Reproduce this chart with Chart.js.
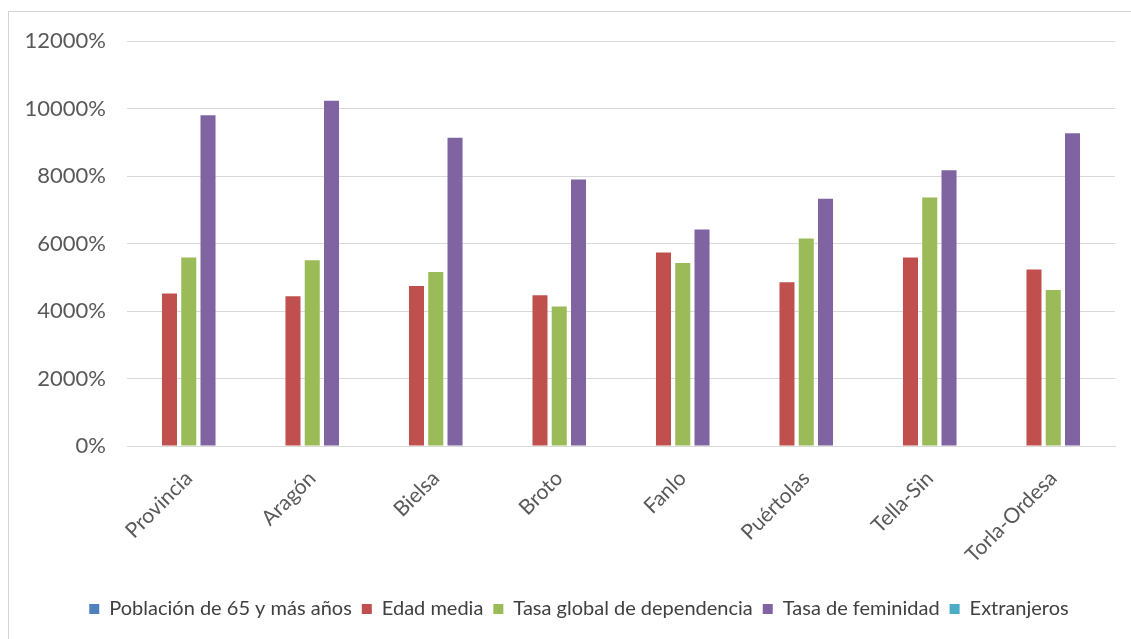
<!DOCTYPE html>
<html>
<head>
<meta charset="utf-8">
<script src="https://cdn.jsdelivr.net/npm/chart.js@4/dist/chart.umd.min.js"></script>
<style>
  body { margin: 0; background: #fff; }
  #wrap {
    position: absolute;
    left: 8px;
    top: 11px;
    width: 1122px;
    height: 627px;
    border-left: 1px solid #d4d4d4;
    border-top: 1px solid #d4d4d4;
  }
</style>
</head>
<body>
<div id="wrap"><canvas id="barChart"></canvas></div>
<script>
// Chart data
const municipios = ["Provincia", "Aragón", "Bielsa", "Broto", "Fanlo", "Puértolas", "Tella-Sin", "Torla-Ordesa"];
const poblacion65 = [0, 0, 0, 0, 0, 0, 0, 0];
const edadMedia = [4515, 4435, 4740, 4465, 5730, 4850, 5585, 5230];
const tasaDependencia = [5585, 5505, 5155, 4130, 5425, 6150, 7365, 4620];
const tasaFeminidad = [9800, 10230, 9130, 7900, 6415, 7325, 8170, 9265];
const extranjeros = [0, 0, 0, 0, 0, 0, 0, 0];
const yTicks = [0, 2000, 4000, 6000, 8000, 10000, 12000];

const textColor = "#595959";
const gridColor = "#d9d9d9";

function makeDataset(label, data, color) {
  return {
    label,
    data,
    backgroundColor: color,
    borderWidth: 0,
    categoryPercentage: 0.78,
    barPercentage: 0.78,
  };
}

// nudge the legend a bit to the right, like the original
const legendShift = {
  id: "legendShift",
  afterLayout(chart) {
    chart.legend.left += 17;
    chart.legend.right += 17;
  },
};

const ctx = document.getElementById("barChart").getContext("2d");
new Chart(ctx, {
  type: "bar",
  data: {
    labels: municipios,
    datasets: [
      makeDataset("Población de 65 y más años", poblacion65, "#4F81BD"),
      makeDataset("Edad media", edadMedia, "#C0504D"),
      makeDataset("Tasa global de dependencia", tasaDependencia, "#9BBB59"),
      makeDataset("Tasa de feminidad", tasaFeminidad, "#8064A2"),
      makeDataset("Extranjeros", extranjeros, "#4BACC6"),
    ],
  },
  plugins: [legendShift],
  options: {
    responsive: true,
    maintainAspectRatio: false,
    animation: false,
    layout: { padding: { top: 29, right: 16, bottom: 10, left: 0 } },
    plugins: {
      tooltip: { enabled: false },
      legend: {
        position: "bottom",
        labels: {
          boxWidth: 10,
          boxHeight: 10,
          padding: 10,
          color: "#404040",
          font: { family: "Lato", size: 20 },
        },
      },
    },
    scales: {
      x: {
        grid: { display: false, drawTicks: false },
        border: { display: true, color: gridColor },
        ticks: {
          color: textColor,
          font: { family: "Lato", size: 21 },
          maxRotation: 45,
          minRotation: 45,
          padding: 20,
        },
        afterFit: (scale) => { scale.height = 143; },
      },
      y: {
        min: 0,
        max: 12000,
        grid: { color: gridColor, drawTicks: true, tickLength: 21, tickColor: "transparent" },
        border: { display: false },
        afterBuildTicks: (scale) => { scale.ticks = yTicks.map((v) => ({ value: v })); },
        ticks: {
          color: textColor,
          font: { family: "Lato", size: 22 },
          padding: 0,
          callback: (v) => v + "%",
        },
        afterFit: (scale) => { scale.width = 118; },
      },
    },
  },
});
</script>
</body>
</html>
